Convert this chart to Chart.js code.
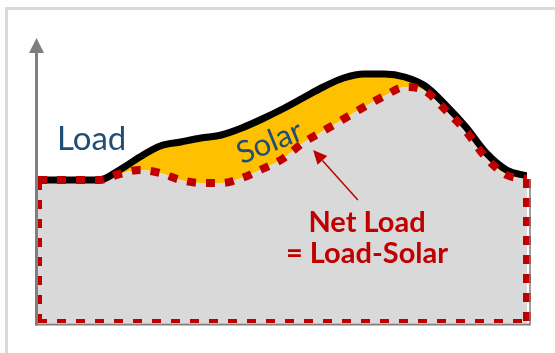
<!DOCTYPE html>
<html>
<head>
<meta charset="utf-8">
<script src="https://cdn.jsdelivr.net/npm/chart.js@4/dist/chart.umd.min.js"></script>
<style>
  html, body { margin: 0; padding: 0; background: #fff; }
  #wrap { position: relative; width: 555px; height: 353px; overflow: hidden; background: #fff; }
  #frameTop { position: absolute; left: 5px; top: 7px; width: 560px; height: 3px; background: #DADADA; }
  #frameLeft { position: absolute; left: 5px; top: 7px; width: 3px; height: 360px; background: #DADADA; }
  canvas { position: absolute; left: 0; top: 0; }
  .lbl { position: absolute; white-space: nowrap; font-family: Lato, "Open Sans", sans-serif; line-height: 1; }
  #lblLoad { left: 57px; top: 121px; font-size: 33px; color: #1F4E79; }
  #lblSolar { left: 269px; top: 141px; font-size: 31px; color: #1F4E79;
              transform: translate(-50%, -50%) rotate(-22deg); }
  .net { left: 267px; width: 200px; text-align: center; font-size: 29px; font-weight: bold; color: #C00000; }
  #lblNet1 { top: 206px; }
  #lblNet2 { top: 237px; }
</style>
</head>
<body>
<div id="wrap">
  <div id="frameTop"></div>
  <div id="frameLeft"></div>
  <canvas id="c" width="555" height="353"></canvas>
  <div class="lbl" id="lblLoad">Load</div>
  <div class="lbl" id="lblSolar">Solar</div>
  <div class="lbl net" id="lblNet1">Net Load</div>
  <div class="lbl net" id="lblNet2">= Load-Solar</div>
</div>
<script>
// Hour of day
const hours = [0, 1, 2, 3, 4, 5, 6, 7, 8, 9, 10, 11, 12, 13, 14, 15, 16, 17, 18, 19, 20, 21, 22, 23, 24];
// Total demand
const load = [14.3, 14.3, 14.3, 14.3, 15.3, 16.6, 17.7, 18.1, 18.5, 18.8, 19.5, 20.4, 21.4, 22.5, 23.6, 24.5, 24.9, 24.9, 24.6, 23.7, 21.8, 19.6, 17.0, 15.3, 14.7];
// Demand left after solar output is taken off
const netLoad = [14.3, 14.3, 14.3, 14.3, 14.9, 15.3, 15.0, 14.3, 14.0, 14.0, 14.5, 15.4, 16.4, 18.0, 19.2, 20.4, 21.6, 22.7, 23.6, 23.2, 21.3, 19.2, 16.5, 14.8, 14.4];
// Arrow from the caption to the net load curve: [hour, value] of tail and tip
const arrowTail = [15.7, 12.3];
const arrowTip = [13.5, 17.3];

const Y_MAX = 28.5;
const last = hours.length - 1;
const pts = (ys) => hours.map((h, i) => ({ x: h, y: ys[i] }));

const RED = '#C00000';
const GREY_AXIS = '#7F7F7F';
const DASH = [9, 10];
const DASH_WIDTH = 8;

const edge = (data, clip) => ({
  data,
  borderColor: RED,
  borderWidth: DASH_WIDTH,
  borderDash: DASH,
  borderCapStyle: 'butt',
  pointRadius: 0,
  fill: false,
  clip: clip,
  order: 0
});

const decor = {
  id: 'decor',
  beforeDatasetsDraw(chart) {
    const { ctx, chartArea: a } = chart;
    ctx.save();
    // baseline under the filled area
    ctx.strokeStyle = GREY_AXIS;
    ctx.lineWidth = 2;
    ctx.beginPath();
    ctx.moveTo(a.left - 3, a.bottom + 1.5);
    ctx.lineTo(a.right + 3, a.bottom + 1.5);
    ctx.stroke();
    ctx.restore();
  },
  afterDatasetsDraw(chart) {
    const { ctx, chartArea: a, scales } = chart;
    const xs = scales.x, ys = scales.y;
    ctx.save();
    // thin outline on the right edge of the filled area
    ctx.strokeStyle = GREY_AXIS;
    ctx.lineWidth = 1.5;
    ctx.beginPath();
    ctx.moveTo(xs.getPixelForValue(24) + 3, ys.getPixelForValue(netLoad[last]));
    ctx.lineTo(xs.getPixelForValue(24) + 3, a.bottom + 2.5);
    ctx.stroke();

    // vertical axis with arrow head
    const ax = a.left - 1.5;
    ctx.strokeStyle = GREY_AXIS;
    ctx.fillStyle = GREY_AXIS;
    ctx.lineWidth = 3;
    ctx.beginPath();
    ctx.moveTo(ax, a.bottom + 2.5);
    ctx.lineTo(ax, a.top + 14);
    ctx.stroke();
    ctx.beginPath();
    ctx.moveTo(ax, a.top);
    ctx.lineTo(ax - 7.5, a.top + 15);
    ctx.lineTo(ax + 7.5, a.top + 15);
    ctx.closePath();
    ctx.fill();

    // pointer from the caption to the net load curve
    const tx = xs.getPixelForValue(arrowTail[0]), ty = ys.getPixelForValue(arrowTail[1]);
    const hx = xs.getPixelForValue(arrowTip[0]), hy = ys.getPixelForValue(arrowTip[1]);
    const ang = Math.atan2(hy - ty, hx - tx);
    const headLen = 14, headHalf = 6.5;
    const bx = hx - headLen * Math.cos(ang), by = hy - headLen * Math.sin(ang);
    ctx.strokeStyle = RED;
    ctx.fillStyle = RED;
    ctx.lineWidth = 1.5;
    ctx.beginPath();
    ctx.moveTo(tx, ty);
    ctx.lineTo(bx, by);
    ctx.stroke();
    ctx.beginPath();
    ctx.moveTo(hx, hy);
    ctx.lineTo(bx + headHalf * Math.sin(ang), by - headHalf * Math.cos(ang));
    ctx.lineTo(bx - headHalf * Math.sin(ang), by + headHalf * Math.cos(ang));
    ctx.closePath();
    ctx.fill();
    ctx.restore();
  }
};

new Chart(document.getElementById('c'), {
  type: 'line',
  data: {
    datasets: [
      {
        label: 'Load',
        data: pts(load),
        borderColor: '#000000',
        borderWidth: 7,
        backgroundColor: '#FFC000',
        fill: { target: 1 },
        pointRadius: 0,
        cubicInterpolationMode: 'monotone',
        order: 2
      },
      {
        label: 'Net Load',
        data: pts(netLoad),
        borderColor: RED,
        borderWidth: DASH_WIDTH,
        borderDash: DASH,
        borderCapStyle: 'butt',
        backgroundColor: '#D9D9D9',
        fill: 'origin',
        pointRadius: 0,
        cubicInterpolationMode: 'monotone',
        order: 1
      },
      edge([{ x: hours[0], y: 0 }, { x: hours[0], y: netLoad[0] }], true),
      edge([{ x: hours[last], y: netLoad[last] }, { x: hours[last], y: 0 }], false),
      edge([{ x: hours[0], y: 0 }, { x: hours[last], y: 0 }], true)
    ]
  },
  options: {
    responsive: false,
    animation: false,
    layout: { padding: { left: 38, right: 28, top: 38, bottom: 30 } },
    scales: {
      x: { type: 'linear', min: hours[0], max: hours[last], display: false },
      y: { min: 0, max: Y_MAX, display: false }
    },
    plugins: {
      legend: { display: false },
      tooltip: { enabled: false },
      filler: { drawTime: 'beforeDatasetsDraw' }
    }
  },
  plugins: [decor]
});
</script>
</body>
</html>
